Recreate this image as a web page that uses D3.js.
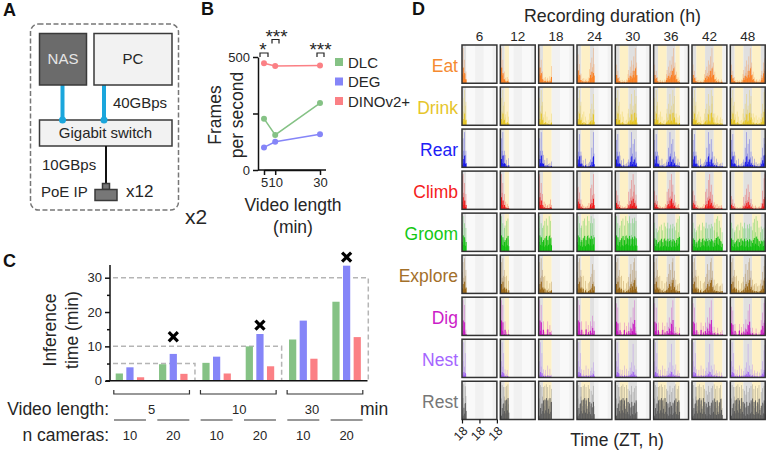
<!DOCTYPE html>
<html>
<head>
<meta charset="utf-8">
<script src="https://cdn.jsdelivr.net/npm/d3@7"></script>
<style>
  body { margin: 0; background: #fff; }
  text { font-family: "Liberation Sans", Arial, sans-serif; fill: #262626; }
</style>
</head>
<body>
<div id="plot"></div>
<script>
// panel B
const videoLengths = [5, 10, 30];
const modelNames = ["DLC", "DEG", "DINOv2+"];
const modelColors = ["#85c285", "#8585f8", "#fb8085"];
const fpsDLC = [227, 155, 296];
const fpsDEG = [100, 125, 158];
const fpsDINO = [472, 460, 462];

// panel C
const runLabels = ["5-10", "5-20", "10-10", "10-20", "30-10", "30-20"];
const camLabels = ["10", "20", "10", "20", "10", "20"];
const timeDLC = [2.1, 4.8, 5.2, 10, 12, 23];
const timeDEG = [3.9, 7.8, 7, 13.6, 17.5, 33.5];
const timeDINO = [1, 2, 2.1, 4.2, 6.4, 12.7];
const crossRuns = ["5-20", "10-20", "30-20"];
const crossValues = [12.8, 16.2, 36];

// panel D
const durations = [6, 12, 18, 24, 30, 36, 42, 48];
const behaviors = ["Eat", "Drink", "Rear", "Climb", "Groom", "Explore", "Dig", "Nest", "Rest"];
const behaviorColors = ["#fb7d1e", "#e6c41a", "#1010e8", "#f01010", "#0cbe0c", "#96620f", "#c810c0", "#9c58f5", "#5a5a5a"];
const labelColors = ["#f58a30", "#e6c52a", "#2020f5", "#f52020", "#14c814", "#a3702a", "#cc1cc8", "#a566ff", "#777777"];

const eatHi = [.3,.45,.2,.3,.12,.15, .04,.07,.02,.08,.02,.05,.07,.02,.04,.09,.06,.22, .32,.18,.4,.25,.55,.3,.45,.65,.3,.85,.4,.5, .22,.28,.1,.14,.04,.08,.1,.03,.06,.02,.09,.05, .2,.3,.18,.5,.35,.6];
const eatLo = [.12,.2,.1,.13,.05,.05, .01,.03,.01,.03,.01,.02,.03,.01,.01,.03,.02,.08, .13,.08,.18,.1,.16,.12,.2,.3,.14,.36,.18,.2, .08,.1,.03,.05,.01,.03,.04,.01,.02,.01,.03,.02, .08,.13,.08,.24,.16,.3];
const drinkHi = [.5,.7,.35,.9,.5,.6, .2,.28,.06,.35,.04,.22,.03,.12,.02,.14,.06,.3, .42,.2,.55,.3,.8,.4,.5,.3,.9,.55,.75,.3, .15,.3,.04,.2,.03,.25,.02,.14,.04,.2,.05,.16, .3,.15,.55,.35,.85,.9];
const drinkLo = [.1,.16,.07,.3,.12,.14, .03,.06,.01,.08,.01,.05,.01,.03,.01,.03,.01,.07, .1,.04,.13,.07,.28,.09,.12,.07,.32,.14,.2,.07, .03,.07,.01,.04,.01,.06,.01,.03,.01,.05,.01,.04, .08,.04,.2,.1,.34,.42];
const rearHi = [.3,.7,.4,.85,.3,.4, .3,.1,.18,.05,.03,.22,.03,.08,.02,.1,.04,.14, .2,.1,.5,.25,.9,.35,.6,.2,.72,.25,.4,.12, .28,.06,.1,.22,.03,.13,.02,.08,.03,.1,.04,.12, .25,.12,.5,.3,.75,.6];
const rearLo = [.06,.2,.1,.28,.08,.1, .08,.02,.04,.01,.01,.05,.01,.02,.01,.02,.01,.03, .05,.02,.14,.06,.28,.08,.14,.05,.2,.06,.1,.03, .06,.01,.02,.05,.01,.03,.01,.02,.01,.02,.01,.03, .08,.03,.18,.1,.3,.32];
const climbHi = [.3,.32,.15,.24,.08,.14, .03,.07,.01,.05,.01,.03,.04,.01,.05,.02,.09,.04, .3,.14,.35,.2,.5,.22,.6,.3,.42,.15,.25,.08, .12,.03,.07,.02,.09,.02,.05,.02,.06,.02,.07,.03, .15,.08,.45,.25,.75,.85];
const climbLo = [.07,.11,.04,.08,.02,.04, .01,.02,.01,.01,.01,.01,.01,.01,.01,.01,.02,.01, .07,.03,.09,.05,.15,.06,.18,.08,.11,.04,.06,.02, .03,.01,.01,.01,.02,.01,.01,.01,.01,.01,.02,.01, .04,.02,.14,.07,.24,.3];
const groomHi = [.5,.75,.3,.6,.25,.5, .55,.2,.65,.3,.7,.25,.55,.3,.75,.35,.65,.3, .6,.75,.25,.6,.35,.7,.25,.6,.72,.3,.65,.25, .55,.75,.35,.85,.5,.92,.4,.8,.3,.62,.25,.5, .65,.25,.58,.3,.62,.35];
const groomLo = [.2,.34,.14,.3,.12,.2, .24,.1,.28,.13,.33,.11,.24,.14,.33,.16,.28,.13, .26,.33,.12,.27,.15,.3,.11,.26,.32,.13,.28,.12, .22,.3,.15,.35,.2,.38,.17,.33,.14,.27,.11,.2, .28,.12,.26,.14,.28,.16];
const exploreHi = [.55,.8,.4,.9,.45,.6, .42,.15,.45,.08,.04,.32,.05,.12,.03,.26,.07,.3, .42,.18,.5,.75,.3,.6,.35,.8,.9,.4,.58,.2, .35,.1,.2,.24,.03,.26,.05,.18,.03,.2,.06,.25, .35,.18,.55,.35,.7,.85];
const exploreLo = [.13,.24,.1,.3,.12,.15, .1,.03,.12,.02,.01,.08,.01,.03,.01,.06,.02,.08, .1,.04,.14,.24,.08,.18,.09,.27,.34,.11,.16,.05, .08,.02,.05,.06,.01,.06,.01,.04,.01,.05,.01,.06, .1,.05,.2,.12,.32,.4];
const digHi = [.2,.75,.3,.65,.08,.12, .3,.03,.08,.02,.02,.12,.3,.02,.03,.22,.03,.1, .3,.06,.2,.42,.1,.3,.65,.25,.82,.2,.1,.05, .2,.03,.08,.02,.05,.18,.02,.02,.02,.08,.02,.12, .4,.1,.6,.2,.85,.92];
const digLo = [.05,.32,.1,.28,.02,.03, .12,.01,.02,.01,.01,.03,.13,.01,.01,.07,.01,.02, .1,.01,.05,.16,.03,.1,.27,.07,.36,.05,.02,.01, .06,.01,.02,.01,.01,.05,.01,.01,.01,.02,.01,.03, .15,.03,.25,.07,.33,.4];
const nestHi = [.08,.3,.65,.2,.45,.06, .15,.03,.06,.14,.02,.02,.22,.02,.03,.16,.03,.05, .12,.05,.18,.08,.28,.12,.62,.1,.22,.06,.15,.03, .24,.02,.07,.13,.02,.08,.01,.11,.02,.01,.09,.04, .15,.06,.3,.14,.5,.6];
const nestLo = [.02,.05,.1,.04,.08,.01, .03,.01,.01,.03,.01,.01,.04,.01,.01,.03,.01,.01, .03,.01,.04,.02,.06,.03,.1,.02,.05,.01,.03,.01, .04,.01,.01,.03,.01,.02,.01,.02,.01,.01,.02,.01, .03,.02,.07,.04,.1,.14];
const restHi = [.25,.55,.9,.4,.85,.6, .85,.35,.88,.5,.92,.4,.85,.55,.35,.9,.45,.8, .35,.75,.3,.65,.88,.35,.72,.3,.82,.4,.88,.45, .92,.35,.8,.3,.88,.45,.35,.82,.4,.9,.55,.3, .72,.3,.82,.4,.88,.35];
const restLo = [.05,.1,.3,.15,.42,.22, .5,.16,.52,.24,.56,.18,.5,.28,.15,.56,.2,.46, .14,.42,.1,.32,.46,.14,.36,.12,.44,.16,.5,.2, .55,.14,.46,.12,.5,.2,.14,.45,.16,.54,.25,.12, .36,.1,.44,.16,.5,.14];

const seriesHi = [eatHi, drinkHi, rearHi, climbHi, groomHi, exploreHi, digHi, nestHi, restHi];
const seriesLo = [eatLo, drinkLo, rearLo, climbLo, groomLo, exploreLo, digLo, nestLo, restLo];

// hours since recording start (ZT18): night, day, night, day, night
const phaseStarts = [0, 6, 18, 30, 42];
const phaseEnds = [6, 18, 30, 42, 48];
const phaseIsNight = [true, false, true, false, true];
const timeTicks = [0, 24, 48];
const timeTickLabels = ["18", "18", "18"];

var svg = d3.select("#plot")
	.append("svg")
	.attr("width", 769)
	.attr("height", 453)
	.style("display", "block");

function label(x, y, str, size, anchor, parent) {
	return (parent || svg).append("text")
		.attr("x", x)
		.attr("y", y)
		.attr("text-anchor", anchor || "start")
		.attr("font-size", size)
		.text(str);
}

function rotated(x, y, str, size) {
	return svg.append("text")
		.attr("transform", "translate(" + x + "," + y + ") rotate(-90)")
		.attr("text-anchor", "middle")
		.attr("font-size", size)
		.text(str);
}

// panel letters
[["A", 3, 16], ["B", 201, 15], ["C", 3, 267], ["D", 412, 15]].forEach(function (d) {
	label(d[1], d[2], d[0], 18).attr("font-weight", "bold").style("fill", "#111");
});

// ---- A: hardware diagram
function box(x, y, w, h, fill) {
	svg.append("rect").attr("x", x).attr("y", y).attr("width", w).attr("height", h)
		.attr("fill", fill).attr("stroke", "#3a3a3a").attr("stroke-width", 1.5);
}
svg.append("rect").attr("x", 30.5).attr("y", 24).attr("width", 148).attr("height", 186).attr("rx", 8)
	.attr("fill", "none").attr("stroke", "#777").attr("stroke-width", 1.5).attr("stroke-dasharray", "5,2.5");
[62.5, 104].forEach(function (x) {
	svg.append("line").attr("x1", x).attr("x2", x).attr("y1", 85).attr("y2", 120)
		.attr("stroke", "#1ba6dc").attr("stroke-width", 4);
});
box(39.5, 33.5, 47, 51.5, "#6b6b6b");
box(94, 33.5, 78, 51.5, "#f2f2f2");
box(39.5, 120, 132.5, 26, "#f2f2f2");
[62.5, 104].forEach(function (x) {
	svg.append("circle").attr("cx", x).attr("cy", 120).attr("r", 3.5).attr("fill", "#1ba6dc");
});
label(63, 64, "NAS", 15, "middle").style("fill", "#e6e6e6");
label(133, 64, "PC", 15, "middle");
label(140, 108, "40GBps", 15, "middle");
label(105.5, 138, "Gigabit switch", 15, "middle");
svg.append("line").attr("x1", 106).attr("x2", 106).attr("y1", 146).attr("y2", 184)
	.attr("stroke", "#111").attr("stroke-width", 2);
box(102.5, 183.5, 7, 6, "#777");
box(95, 189.5, 22, 11, "#777");
label(42, 170, "10GBps", 15);
label(41, 197, "PoE IP", 15);
label(126, 197, "x12", 17);
label(185, 224, "x2", 21);

// ---- B: frames per second
var xB = d3.scaleLinear().domain([5, 30]).range([264, 320]);
var yB = d3.scaleLinear().domain([0, 500]).range([170, 57]);

var axisB = svg.append("g");
axisB.append("g")
	.attr("transform", "translate(258,0)")
	.call(d3.axisLeft(yB).tickValues([0, 250, 500]).tickFormat(function (d) { return d === 250 ? "" : d; }).tickSize(5).tickSizeOuter(0));
axisB.append("g")
	.attr("transform", "translate(0,170)")
	.call(d3.axisBottom(xB).tickValues(videoLengths).tickSize(5).tickSizeOuter(0));
axisB.selectAll(".domain").attr("stroke", "#111").attr("stroke-width", 1.5);
axisB.selectAll(".tick line").attr("stroke", "#111").attr("stroke-width", 1.5);
axisB.selectAll("text").attr("font-size", 13).attr("font-family", "Liberation Sans");
svg.append("line").attr("x1", 258).attr("x2", 326).attr("y1", 170).attr("y2", 170).attr("stroke", "#111").attr("stroke-width", 1.5);

[fpsDLC, fpsDEG, fpsDINO].forEach(function (vals, i) {
	var pts = vals.map(function (v, k) { return [videoLengths[k], v]; });
	svg.append("path")
		.attr("d", d3.line().x(function (d) { return xB(d[0]); }).y(function (d) { return yB(d[1]); })(pts))
		.attr("fill", "none").attr("stroke", modelColors[i]).attr("stroke-width", 1.5);
	svg.selectAll(null).data(pts).enter().append("circle")
		.attr("cx", function (d) { return xB(d[0]); })
		.attr("cy", function (d) { return yB(d[1]); })
		.attr("r", 3).attr("fill", modelColors[i]);
	svg.append("rect").attr("x", 335).attr("y", 58 + i * 19.5).attr("width", 8).attr("height", 8).attr("fill", modelColors[i]);
	label(348, 67.5 + i * 19.5, modelNames[i], 15);
});
rotated(221, 115, "Frames", 17.5);
rotated(243, 115, "per second", 17.5);
label(293, 211, "Video length", 17.5, "middle");
label(293, 233, "(min)", 17.5, "middle");

// significance brackets
[[260, 268, 53, "*", 263, 56], [272, 279, 39.5, "***", 276.5, 43], [317, 324, 53, "***", 320.5, 56]].forEach(function (d) {
	svg.append("path").attr("d", "M" + d[0] + "," + (d[2] + 4) + "V" + d[2] + "H" + d[1] + "V" + (d[2] + 4))
		.attr("fill", "none").attr("stroke", "#222").attr("stroke-width", 1.2);
	label(d[4], d[5], d[3], 19, "middle");
});

// ---- C: inference time
var xC = d3.scaleBand().domain(runLabels).range([108.3, 368.3]);
var xInner = d3.scaleBand().domain(modelNames).range([4, 39.3]).padding(0.32);
var yC = d3.scaleLinear().domain([0, 30]).range([380.7, 277.7]);

// cut-off boxes, behind the bars
[[5, 2], [10, 4], [30, 6]].forEach(function (d) {
	var right = xC.range()[0] + d[1] * xC.step();
	svg.append("path")
		.attr("d", "M113," + yC(d[0]) + "H" + right + "V" + yC(0))
		.attr("fill", "none").attr("stroke", "#b5b5b5").attr("stroke-width", 1.5).attr("stroke-dasharray", "5,3");
});

[timeDLC, timeDEG, timeDINO].forEach(function (vals, i) {
	svg.selectAll(null).data(vals).enter().append("rect")
		.attr("x", function (d, k) { return xC(runLabels[k]) + xInner(modelNames[i]); })
		.attr("y", function (d) { return yC(d); })
		.attr("width", xInner.bandwidth())
		.attr("height", function (d) { return yC(0) - yC(d); })
		.attr("fill", modelColors[i]);
});

var axisC = svg.append("g").attr("transform", "translate(110,0)")
	.call(d3.axisLeft(yC).tickValues([0, 5, 10, 15, 20, 25, 30])
		.tickFormat(function (d) { return d % 10 === 0 ? d : ""; }).tickSize(5).tickSizeOuter(0));
axisC.select(".domain").attr("d", "M0," + yC(0) + "V265").attr("stroke", "#111").attr("stroke-width", 1.5);
axisC.selectAll(".tick line").attr("stroke", "#111").attr("stroke-width", 1.5);
axisC.selectAll(".tick line").filter(function (d) { return d % 10 !== 0; }).attr("x2", -3);
axisC.selectAll("text").attr("font-size", 13).attr("font-family", "Liberation Sans").attr("x", -8);
svg.append("line").attr("x1", 106).attr("x2", 367.5).attr("y1", yC(0)).attr("y2", yC(0)).attr("stroke", "#111").attr("stroke-width", 1.5);

svg.selectAll(null).data(crossRuns).enter().append("path")
	.attr("d", d3.symbol(d3.symbolTimes, 55))
	.attr("transform", function (d, i) { return "translate(" + (xC(d) + xC.bandwidth() / 2) + "," + yC(crossValues[i]) + ")"; })
	.attr("stroke", "#000").attr("stroke-width", 3.2).attr("fill", "none");

rotated(56, 330, "Inference", 17.5);
rotated(78, 330, "time (min)", 17.5);

// run table under the bars
label(109, 415, "Video length:", 17.5, "end");
label(109, 441, "n cameras:", 17.5, "end");
label(360, 415, "min", 17.5);
[[0, "5"], [2, "10"], [4, "30"]].forEach(function (d) {
	var x0 = xC(runLabels[d[0]]), x1 = xC(runLabels[d[0] + 1]) + xC.step();
	svg.append("path").attr("d", "M" + (x0 + 5.5) + ",390V394H" + (x1 - 5.5) + "V390")
		.attr("fill", "none").attr("stroke", "#333").attr("stroke-width", 1.2);
	label((x0 + x1) / 2 + (d[0] === 4 ? -13 : d[0] === 2 ? 1 : 0), 413.5, d[1], 13, "middle");
});
runLabels.forEach(function (run, i) {
	var c = xC(run) + xC.bandwidth() / 2;
	svg.append("line").attr("x1", c - 16).attr("x2", c + 16).attr("y1", 420).attr("y2", 420).attr("stroke", "#333").attr("stroke-width", 1.2);
	label(c, 439.5, camLabels[i], 13, "middle");
});

// ---- D: behaviour rasters
label(612.5, 22, "Recording duration (h)", 17.8, "middle");
label(617, 446, "Time (ZT, h)", 17.5, "middle");

var colX = d3.scaleBand().domain(durations).range([462, 765.2]).paddingInner(0.09);
var rowY = d3.scaleBand().domain(behaviors).range([45, 419.5]).paddingInner(0.09);
var hourX = d3.scaleLinear().domain([0, 48]).range([0, colX.bandwidth()]);

durations.forEach(function (dur) {
	label(colX(dur) + colX.bandwidth() / 2, 41, dur, 13.5, "middle");
});

behaviors.forEach(function (name, r) {
	label(458, rowY(name) + rowY.bandwidth() / 2 + 7.5, name, 17.5, "end").style("fill", labelColors[r]);

	durations.forEach(function (dur) {
		var cell = svg.append("g")
			.attr("transform", "translate(" + colX(dur) + "," + rowY(name) + ")");
		var h = rowY.bandwidth();

		// light cycle, faded after the end of the recording
		phaseStarts.forEach(function (start, p) {
			var end = phaseEnds[p];
			var cut = Math.min(end, dur);
			if (cut > start) {
				cell.append("rect").attr("x", hourX(start)).attr("width", hourX(cut) - hourX(start))
					.attr("height", h).attr("fill", phaseIsNight[p] ? "#e0e0e0" : "#fdf0c6");
			}
			var from = Math.max(start, dur);
			if (end > from) {
				cell.append("rect").attr("x", hourX(from)).attr("width", hourX(end) - hourX(from))
					.attr("height", h).attr("fill", phaseIsNight[p] ? "#f1f1f1" : "#f9f9f9");
			}
		});

		// each cell is scaled to the tallest bin of its own recording
		var hi = seriesHi[r].slice(0, dur);
		var lo = seriesLo[r].slice(0, dur);
		var y = d3.scaleLinear().domain([0, d3.max(hi) / 0.92]).range([h, 0]);
		[[hi, 0.42, 0.9], [lo, 1, 1.3]].forEach(function (layer) {
			cell.selectAll(null).data(layer[0]).enter().append("rect")
				.attr("x", function (d, k) { return hourX(k); })
				.attr("y", function (d) { return y(d); })
				.attr("width", hourX(1) * layer[2])
				.attr("height", function (d) { return h - y(d); })
				.attr("fill", behaviorColors[r])
				.attr("opacity", layer[1]);
		});

		cell.append("rect").attr("width", colX.bandwidth()).attr("height", h)
			.attr("fill", "none").attr("stroke", "#333").attr("stroke-width", 1.5);
	});
});

// time axis only under the first Rest cell
var axisD = svg.append("g")
	.attr("transform", "translate(" + colX(6) + "," + (rowY("Rest") + rowY.bandwidth()) + ")")
	.call(d3.axisBottom(hourX).tickValues(timeTicks).tickFormat(function (d, i) { return timeTickLabels[i]; }).tickSize(4).tickSizeOuter(0));
axisD.select(".domain").remove();
axisD.selectAll(".tick line").attr("stroke", "#111").attr("stroke-width", 1.2);
axisD.selectAll("text")
	.attr("font-size", 12.5).attr("font-family", "Liberation Sans")
	.attr("text-anchor", "middle")
	.attr("x", 0).attr("y", 0).attr("dy", ".35em")
	.attr("transform", "translate(-2,14) rotate(-45)");
</script>
</body>
</html>
